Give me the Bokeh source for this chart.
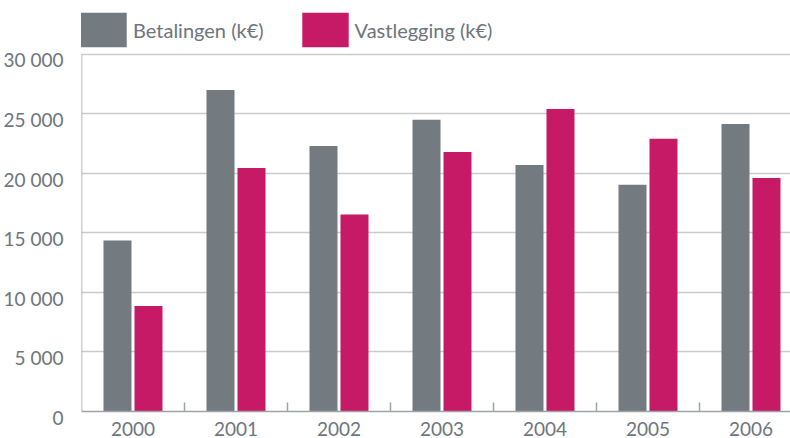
from bokeh.plotting import figure
from bokeh.models import Range1d, FixedTicker, Legend, LegendItem
from bokeh.embed import file_html
from bokeh.resources import INLINE

years = ["2000", "2001", "2002", "2003", "2004", "2005", "2006"]
betalingen = [14350, 27000, 22300, 24500, 20700, 19050, 24150]
vastlegging = [8850, 20450, 16550, 21800, 25400, 22900, 19600]
y_ticks = [0, 5000, 10000, 15000, 20000, 25000, 30000]
y_tick_labels = ["0", "5 000", "10 000", "15 000", "20 000", "25 000", "30 000"]
series_names = ["Betalingen (k€)", "Vastlegging (k€)"]

GRAY = "#737a80"
PINK = "#c61a67"
TEXT = "#6e757c"
AXIS = "#9ea3a8"
FONT = "Lato"

W, H = 790, 438
LEFT, BOTTOM = 81, 25
FRAME_H = H - BOTTOM          # frame spans the full top so the legend sits inside it
TOP_PAD = 54                  # pixels above the 30 000 line kept for the legend
y_end = y_ticks[-1] * FRAME_H / (FRAME_H - TOP_PAD)
x_start = -0.5
x_end = x_start + (W - LEFT) / 103.0

xs = list(range(len(years)))

p = figure(width=W, height=H, output_backend="svg", toolbar_location=None,
           x_range=Range1d(x_start, x_end), y_range=Range1d(0, y_end),
           min_border_left=LEFT, min_border_right=0, min_border_top=0, min_border_bottom=BOTTOM)
p.outline_line_color = None
p.background_fill_color = "white"

r1 = p.vbar(x=[x - 0.1505 for x in xs], top=betalingen, width=0.2718, fill_color=GRAY, line_color=None)
r2 = p.vbar(x=[x + 0.1505 for x in xs], top=vastlegging, width=0.2718, fill_color=PINK, line_color=None)

# x axis
xa = p.xaxis[0]
xa.ticker = FixedTicker(ticks=xs, minor_ticks=[x + 0.5 for x in xs])
xa.major_label_overrides = {i: y for i, y in enumerate(years)}
xa.major_tick_line_color = None
xa.minor_tick_in = 9
xa.minor_tick_out = 0
xa.minor_tick_line_color = AXIS
xa.minor_tick_line_width = 1.5
xa.axis_line_color = AXIS
xa.axis_line_width = 1.5
xa.major_label_text_font = FONT
xa.major_label_text_font_size = "19px"
xa.major_label_text_color = TEXT
xa.major_label_standoff = 4

# y axis (line drawn only from 0 to 30 000); labels hang slightly below their lines
ya = p.yaxis[0]
ya.ticker = FixedTicker(ticks=y_ticks)
ya.major_label_overrides = {t: "\n" + l for t, l in zip(y_ticks, y_tick_labels)}
ya.major_tick_line_color = None
ya.minor_tick_line_color = None
ya.axis_line_color = None
ya.major_label_text_font = FONT
ya.major_label_text_font_size = "19px"
ya.major_label_text_color = TEXT
ya.major_label_text_line_height = 0.5
ya.major_label_standoff = 12
p.segment(x0=[x_start], y0=[y_ticks[0]], x1=[x_start], y1=[y_ticks[-1]],
          line_color=AXIS, line_width=1.5)

p.xgrid.grid_line_color = None
p.ygrid.grid_line_color = "#cbcbcb"
p.ygrid.grid_line_width = 1.5
p.ygrid.ticker = FixedTicker(ticks=y_ticks)

legend = Legend(items=[LegendItem(label=series_names[0], renderers=[r1]),
                       LegendItem(label=series_names[1], renderers=[r2])],
                location=(-7, FRAME_H - 53), orientation="horizontal",
                glyph_width=58, glyph_height=43, label_standoff=1, spacing=32,
                padding=0, margin=0, border_line_color=None, background_fill_alpha=0,
                label_text_font=FONT, label_text_font_size="20px", label_text_color=TEXT)
p.add_layout(legend, "center")

open("out.html", "w").write(file_html(p, INLINE))
